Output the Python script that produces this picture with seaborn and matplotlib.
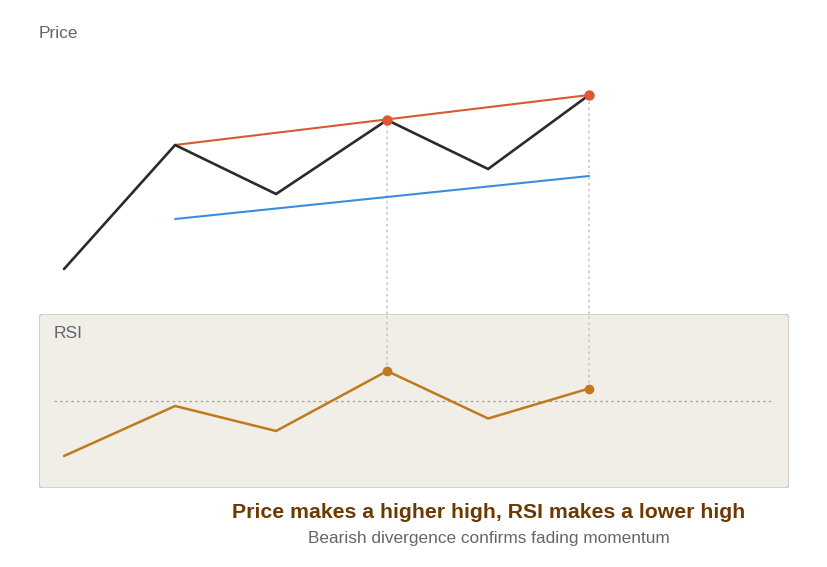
import numpy as np
import pandas as pd
import matplotlib.pyplot as plt
import seaborn as sns
from matplotlib.patches import FancyBboxPatch

# bar index of each swing point
bars = [0, 11, 21, 32, 42, 52]
price = [103.1, 115.5, 110.6, 118.0, 113.1, 120.5]
rsi = [28, 48, 38, 62, 43, 55]

# trend lines (start/end bar and value)
high_line_x = [11, 52]
high_line_y = [115.5, 120.5]
low_line_x = [11, 52]
low_line_y = [108.1, 112.4]

peak_bars = [32, 52]
peak_price = [118.0, 120.5]
peak_rsi = [62, 55]
rsi_mid = 50

title = "Price makes a higher high, RSI makes a lower high"
subtitle = "Bearish divergence confirms fading momentum"

sns.set_style("white")
plt.rcParams['font.family'] = ['Liberation Sans', 'DejaVu Sans']

W, H = 828, 567
fig = plt.figure(figsize=(W / 100, H / 100), dpi=100)

def px_axes(x0, y0, x1, y1):
    return fig.add_axes([x0 / W, 1 - y1 / H, (x1 - x0) / W, (y1 - y0) / H])

xlim = (-2.48, 71.8)
conn_color = "#c8c8c8"
conn_style = (0, (1.5, 2))

# price panel (runs down to the top of the RSI box)
ax_p = px_axes(39, 40, 789, 314)
ax_p.set_xlim(*xlim)
ax_p.set_ylim(98.6, 126)
ax_p.axis("off")

df = pd.DataFrame({"bar": bars, "price": price, "rsi": rsi})
ax_p.vlines(peak_bars, 98.6, peak_price, colors=conn_color, linestyles=conn_style, lw=1.2, zorder=1)
sns.lineplot(x=high_line_x, y=high_line_y, ax=ax_p, color="#d95a32", lw=1.5)
sns.lineplot(x=low_line_x, y=low_line_y, ax=ax_p, color="#3a8ee0", lw=1.5)
sns.lineplot(data=df, x="bar", y="price", ax=ax_p, color="#2b2b2b", lw=1.9)
ax_p.plot(peak_bars, peak_price, "o", color="#d95a32", ms=7.5, mew=0, zorder=5)

# RSI panel
ax_r = px_axes(39, 314, 789, 488)
ax_r.set_xlim(*xlim)
ax_r.set_ylim(15.2, 84.8)
ax_r.axis("off")
box = FancyBboxPatch((0, 0), 1, 1, transform=ax_r.transAxes,
                     boxstyle="round,pad=0,rounding_size=0.006",
                     facecolor="#f1eee7", edgecolor="#cfcac1", lw=1.1, zorder=0,
                     mutation_aspect=750 / 174)
ax_r.add_patch(box)
ax_r.vlines(peak_bars, peak_rsi, 84.8, colors=conn_color, linestyles=conn_style, lw=1.2, zorder=1)
ax_r.hlines(rsi_mid, -1, 70.1, colors="#a89f94", linestyles=(0, (2, 2.5)), lw=0.9)
sns.lineplot(data=df, x="bar", y="rsi", ax=ax_r, color="#c07a1e", lw=1.8)
ax_r.plot(peak_bars, peak_rsi, "o", color="#c07a1e", ms=7, mew=0, zorder=5)

fig.text(39 / W, 1 - 33 / H, "Price", ha="left", va="center", fontsize=12.5, color="#666666")
ax_r.text(15 / 750, 1 - 19 / 174, "RSI", transform=ax_r.transAxes, ha="left", va="center",
          fontsize=12.5, color="#5f6670")

fig.text(489 / W, 1 - 512.5 / H, title, ha="center", va="center", fontsize=15.3,
         fontweight="bold", color="#6b3a00")
fig.text(489 / W, 1 - 539 / H, subtitle, ha="center", va="center", fontsize=12.4,
         color="#666666")

fig.savefig("out.png", dpi=100)
